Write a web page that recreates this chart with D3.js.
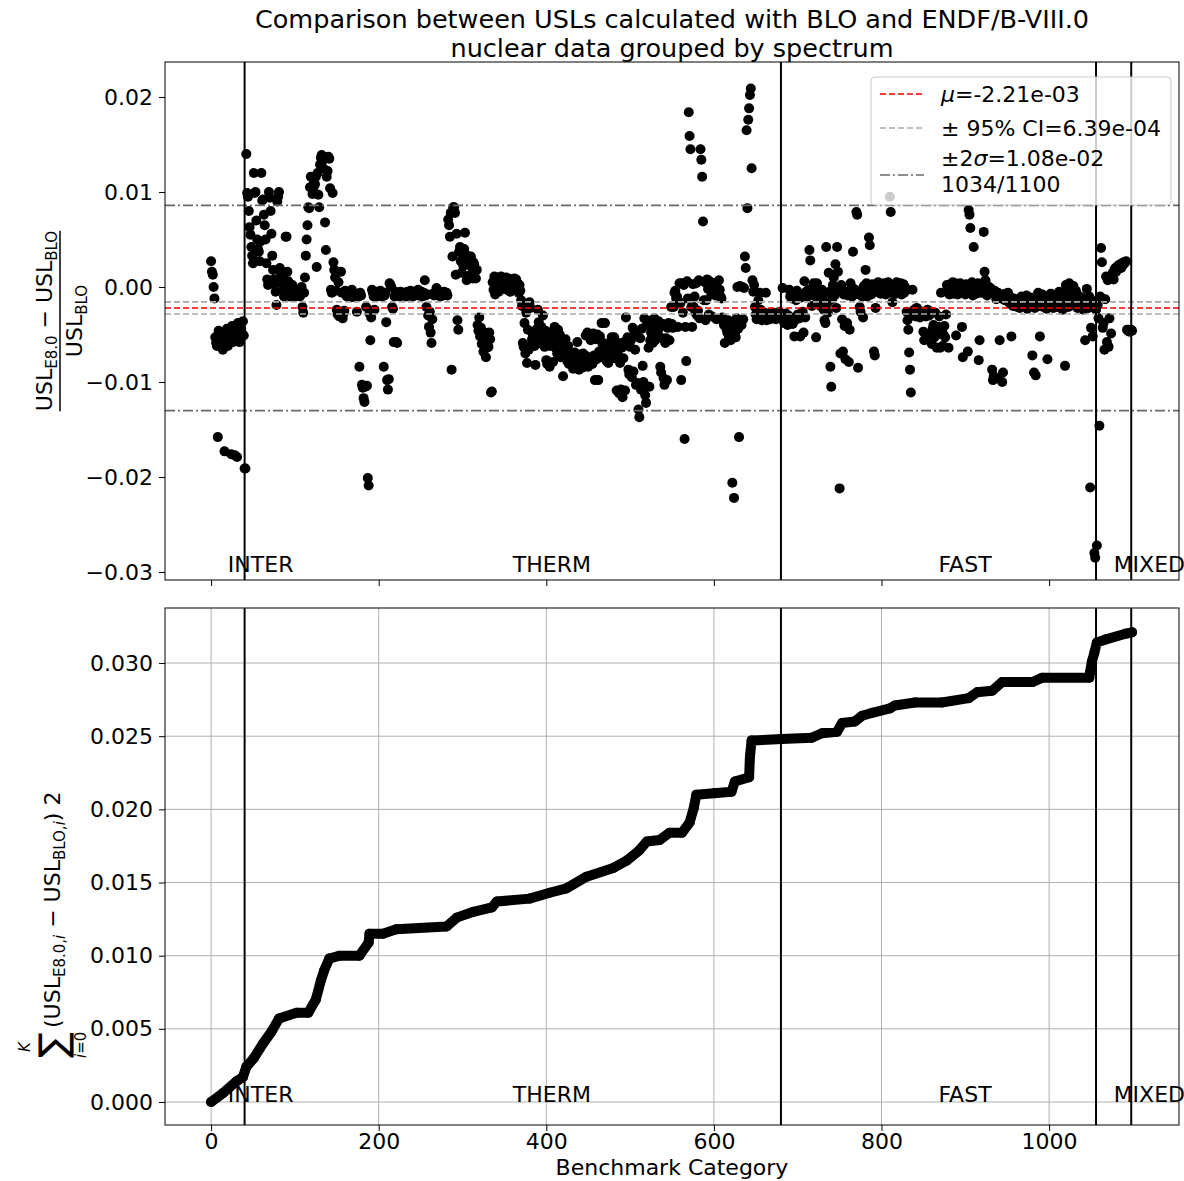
<!DOCTYPE html>
<html><head><meta charset="utf-8">
<script src="https://cdn.jsdelivr.net/npm/d3@7"></script>
<style>body{margin:0;background:#fff} svg text{font-family:'DejaVu Sans',sans-serif;fill:#000}</style>
</head><body><svg id="c" width="1184" height="1181"></svg>
<script>
// ---------- data ----------
const categories = ["INTER", "THERM", "FAST", "MIXED"];
const categoryBounds = [0, 40, 680, 1056, 1098];
// relative USL difference per benchmark, in units of 1e-3 (index = benchmark number)
const relDiffMilli = [
 2.7,1.6,1.3,0.0,-1.2,-5.3,-5.9,-6.2,-15.8,-4.6,
 -5.5,-6.0,-4.9,-5.7,-6.6,-5.1,-17.3,-4.8,-5.6,-4.4,
 -6.2,-5.0,-4.5,-5.4,-17.6,-4.1,-5.8,-4.7,-17.7,-4.2,
 -5.3,-17.9,-3.8,-4.9,-5.8,-4.0,-4.4,-4.9,-3.6,-5.1,
 -19.1,-19.1,14.0,9.9,9.5,8.0,6.3,5.5,4.2,3.3,
 2.5,12.0,9.9,10.0,7.0,5.0,4.0,3.7,2.7,4.8,
 12.0,9.1,9.2,7.6,6.5,5.0,2.5,0.8,0.2,10.0,
 9.4,8.0,5.6,3.3,1.8,0.8,0.3,-0.5,-1.9,9.0,
 9.5,10.0,2.0,1.5,1.0,0.4,-0.3,-1.0,0.7,5.3,
 5.3,1.6,0.6,-0.3,-1.0,-0.7,-0.4,0.2,-0.8,-0.5,
 -1.0,-0.9,-0.8,-0.6,-0.4,-0.7,-1.0,-0.3,0.0,-2.1,
 -2.7,-0.6,1.0,3.3,5.0,6.5,8.4,8.3,10.5,11.6,
 10.5,9.8,10.3,11.0,10.8,11.6,2.1,12.0,9.7,8.4,
 12.9,13.6,13.9,13.3,12.5,13.6,6.8,3.9,11.6,12.2,
 13.7,13.5,10.4,-0.3,-0.6,9.9,2.6,1.8,1.0,-0.4,
 -2.4,-2.9,0.5,-3.1,-2.7,1.6,-0.6,-3.3,-2.8,-2.5,
 -0.4,-0.8,-1.0,-0.6,-0.5,-0.9,-1.1,-0.7,-0.3,-0.9,
 -0.6,-0.9,-1.1,-0.8,-2.6,-0.7,-1.0,-8.4,-0.6,-0.9,
 -10.3,-10.6,-11.7,-12.1,-10.5,-2.1,-10.4,-20.1,-20.9,-2.8,
 -5.6,-3.2,-0.3,-0.6,-1.0,-2.4,-0.8,-0.5,-1.0,-0.7,
 -0.9,-0.6,-0.4,-0.8,-1.0,-0.7,-8.4,-0.9,-0.6,-3.7,
 -9.8,-10.8,-9.7,0.4,0.2,0.0,-2.1,-2.3,-5.8,-1.0,
 -0.5,-5.8,-5.9,-0.8,-0.6,-1.0,-0.5,-0.8,-0.7,-0.9,
 -0.6,-0.9,-0.7,-1.0,-0.5,-0.8,-0.6,-0.9,-0.4,-0.8,
 -0.7,-1.0,-0.6,-0.9,-0.5,-0.8,-0.7,-0.3,-0.9,-0.6,
 -0.8,-0.5,-1.0,-0.7,-0.6,0.7,-0.9,-2.1,-0.8,-3.0,
 -4.2,-2.6,-4.8,-5.9,-3.4,-0.7,-0.9,-0.6,-0.8,-0.1,
 -0.7,-0.9,-0.5,-0.8,-1.0,-0.6,-0.9,-0.7,-0.5,-0.8,
 -0.8,-0.6,-0.9,7.1,6.5,5.3,7.8,-8.7,3.2,8.4,
 8.4,7.8,1.3,5.6,-3.5,-4.5,3.7,4.2,2.7,1.5,
 3.0,2.2,4.0,5.7,2.5,0.7,3.3,2.4,1.2,2.9,
 3.2,2.1,0.9,2.6,2.4,1.6,0.9,1.8,-4.0,-4.6,
 -3.2,-5.2,-4.3,-6.0,-5.4,-6.8,-4.8,-5.9,-7.4,-6.4,
 -5.0,-6.3,-4.8,-5.5,-11.1,-11.0,0.5,-0.3,1.1,-0.8,
 0.3,1.0,0.6,-0.5,0.8,0.2,1.1,0.6,-0.2,0.4,
 0.7,0.2,1.0,-0.3,0.5,0.9,0.1,-0.5,0.3,0.8,
 0.4,-0.2,0.9,0.6,0.8,-0.1,0.4,-0.6,0.2,-0.4,
 -1.4,-2.0,-5.9,-6.3,-3.8,-7.0,-2.7,-8.0,-4.5,-6.6,
 -1.6,-2.2,-6.1,-5.5,-5.0,-4.7,-6.2,-8.2,-5.3,-4.4,
 -2.4,-3.7,-5.8,-4.9,-4.2,-6.0,-3.0,-5.5,-6.3,-4.6,
 -7.7,-8.1,-5.1,-4.8,-8.4,-6.2,-5.6,-4.9,-7.9,-5.3,
 -4.2,-6.4,-5.9,-7.0,-4.5,-6.7,-5.0,-7.4,-6.1,-5.8,
 -9.4,-6.6,-7.2,-5.5,-6.9,-7.8,-6.2,-8.1,-7.0,-7.5,
 -8.0,-7.3,-8.6,-7.7,-6.9,-8.3,-7.9,-5.8,-7.4,-8.7,
 -7.1,-8.2,-7.6,-8.5,-7.0,-7.8,-8.0,-5.1,-7.3,-4.8,
 -8.4,-7.5,-5.3,-5.6,-7.9,-8.1,-4.9,-7.2,-9.8,-5.5,
 -7.6,-5.0,-9.8,-6.8,-5.2,-7.4,-3.8,-6.0,-5.9,-7.1,
 -3.8,-6.5,-7.8,-6.2,-8.0,-7.2,-5.9,-6.6,-5.3,-6.9,
 -6.9,-5.3,-7.5,-6.1,-10.9,-7.0,-5.9,-11.2,-8.0,-10.8,
 -6.4,-11.6,-7.5,-5.8,-10.9,-3.2,-6.0,-5.3,-8.7,-9.2,
 -6.3,-5.6,-9.5,-4.3,-8.9,-5.0,-6.6,-10.3,-4.8,-10.1,
 -12.9,-13.7,-5.4,-10.8,-4.4,-8.3,-10.0,-3.3,-11.4,-12.2,
 -4.0,-3.6,-6.4,-10.5,-5.6,-4.8,-3.5,-5.9,-4.1,-3.3,
 -5.6,-4.5,-3.8,-4.9,-3.6,-4.3,-8.4,-9.0,-5.4,-3.9,
 -9.6,-10.3,-5.9,-5.4,-9.8,-4.3,-3.8,-5.6,-4.0,-2.1,
 -3.9,-4.3,-2.1,-0.6,-0.4,-1.2,-1.0,-4.2,-1.5,0.4,
 -1.7,-9.8,0.4,-2.7,0.2,-16.0,-4.2,-7.8,0.6,-1.2,
 18.4,15.9,14.5,-2.1,-4.2,0.3,-2.1,-1.0,-2.7,0.4,
 -3.0,-2.5,0.7,-3.3,14.5,13.4,11.6,6.9,-1.4,0.5,
 -3.5,-1.4,0.8,-0.2,-2.9,0.6,0.2,-0.8,-3.1,0.1,
 -0.5,0.4,-0.9,-3.4,0.0,-0.4,0.7,-0.3,-1.0,-1.2,
 -3.2,-3.6,-4.0,-5.9,-3.8,-4.4,-4.8,-3.5,-5.2,-4.1,
 -5.6,-4.6,-20.6,-3.9,-22.2,-4.9,-5.3,-3.3,0.0,-4.4,
 -15.8,0.1,-3.6,-4.0,0.0,-3.4,-0.1,3.2,2.0,16.5,
 8.3,17.6,18.8,20.2,20.9,12.5,0.7,-0.5,0.2,-2.1,
 -2.9,-3.4,-2.5,-1.4,-3.1,-0.6,-2.4,-3.5,-2.8,-3.0,
 -2.7,-3.3,-0.6,-3.5,-2.9,-2.8,-3.2,-3.4,-2.9,-3.1,
 -2.7,-3.3,-3.0,-2.8,-3.4,-3.2,-2.9,-3.1,-2.6,-3.3,
 -3.0,-2.9,-0.1,-3.4,-3.8,-3.2,-2.8,-3.6,-4.0,-3.0,
 -0.3,-1.0,-3.7,-1.2,-3.9,-0.7,-5.2,-3.5,-1.4,-0.4,
 -2.9,-0.9,-3.3,-5.2,-1.1,-0.8,-2.6,-4.8,0.6,-3.2,
 -0.5,-0.9,-1.0,-0.3,3.9,2.8,-0.6,-2.0,-0.8,0.4,
 -0.7,-1.0,-5.3,0.4,-0.4,-1.2,-0.8,-2.0,-1.6,-0.3,
 -1.0,-2.4,-3.5,-3.8,4.2,-1.8,-2.7,1.5,-0.5,-8.4,
 -10.5,-1.3,0.2,1.0,-0.9,2.4,-2.2,4.2,1.6,-0.3,
 -21.2,-7.0,0.2,-3.4,-6.8,-0.8,-4.1,-7.6,-0.5,-3.8,
 -0.9,-7.9,-4.5,0.4,-0.6,-1.0,3.7,-0.2,-0.7,-0.4,
 7.9,7.6,-8.5,-0.8,-2.1,-2.6,-0.3,-1.0,-3.2,0.1,
 -0.5,1.8,0.4,-1.0,-0.6,5.2,4.4,-0.2,-0.8,0.3,
 -0.4,-6.8,-7.2,-2.2,0.2,-0.5,0.5,-0.3,-0.1,-0.7,
 0.3,-0.2,-0.6,0.4,-0.1,-0.8,0.2,-0.4,0.5,-0.3,
 9.5,7.9,-0.6,-1.6,0.1,-0.4,0.3,-0.7,0.5,-0.2,
 -0.5,0.2,-0.3,0.4,-0.8,-0.1,0.3,-0.6,0.0,-0.4,
 -2.6,-3.5,-4.5,-6.9,-8.7,-11.1,-2.9,-0.3,-3.0,-2.4,
 -2.7,-3.1,-2.2,-2.8,-3.0,-2.5,-3.2,-2.9,-2.6,-3.0,
 -4.7,-5.6,-2.8,-3.1,-5.1,-2.4,-2.9,-3.0,-4.9,-2.6,
 -6.0,-4.4,-4.0,-5.3,-2.7,-4.8,-6.4,-5.0,-4.2,-3.1,
 -6.4,-0.6,-4.5,-6.2,-5.0,-4.1,-5.3,-2.9,0.2,-0.4,
 -6.4,-0.8,0.3,-0.5,-0.1,0.5,-0.7,-0.2,0.4,-5.1,
 -0.3,-0.8,0.2,-0.6,0.4,-0.1,-4.2,-7.4,-0.5,0.1,
 -0.8,0.3,-0.4,-6.8,8.1,7.6,6.2,-0.2,0.5,-0.9,
 4.2,-0.3,0.2,-0.7,-0.5,0.4,-7.7,-5.6,-0.1,-0.6,
 0.3,-0.4,5.8,1.6,0.7,-0.2,-0.9,0.1,-0.5,-0.3,
 -0.1,-0.6,-8.7,-9.8,-9.4,-0.4,-0.8,-1.3,-9.6,-0.6,
 -1.0,-5.6,-0.8,-1.2,-10.0,-9.0,-0.9,-1.4,-0.7,-1.1,
 -1.3,-0.6,-1.6,-1.0,-1.8,-5.2,-1.5,-2.0,-1.2,-1.7,
 -1.9,-1.4,-2.1,-1.6,-1.3,-2.2,-1.8,-1.0,-1.5,-2.0,
 -1.7,-1.2,-1.9,-0.9,-2.3,-1.6,-1.4,-2.0,-1.1,-1.8,
 -7.2,-1.5,-9.0,-2.2,-9.3,-1.3,-1.7,-0.6,-2.0,-5.2,
 -1.4,-1.9,-0.8,-2.1,-1.6,-1.2,-1.8,-2.3,-7.6,-1.5,
 -1.0,-2.0,-0.7,-1.7,-1.3,-2.2,-1.9,-0.9,-1.6,-2.1,
 -1.2,-1.8,-0.5,-2.0,-1.4,-1.1,-2.4,-0.8,-1.7,-8.3,
 0.2,-1.6,-0.3,-2.1,0.4,-1.3,-1.9,-0.6,-1.8,0.1,
 -1.5,-2.0,-0.4,-1.2,-2.2,-0.9,-1.7,-1.4,-2.0,-1.1,
 -1.8,-2.4,-1.3,-5.6,-2.0,-0.2,-1.6,-2.2,-1.0,-21.1,
 -4.3,-2.1,-5.2,-1.5,-28.0,-28.5,-2.4,-27.2,-1.9,-3.3,
 -14.6,-1.0,4.1,2.6,-4.3,-3.8,-6.6,-1.3,1.1,-5.8,
 0.7,-6.3,-3.3,0.9,-4.9,1.1,1.5,0.8,1.8,2.0,
 1.6,2.1,1.9,2.3,2.2,2.4,2.0,2.5,2.3,2.6,
 2.5,2.6,2.7,-4.5,-4.6,-4.5,-4.7,-4.6,-4.5,-4.6
];
// cumulative sum (index, value in 1e-3)
const cumIndex = [0,14,30,38,42,51,62,72,81,102,116,125,131,135,141,153,177,188,189,205,221,281,293,313,335,341,380,404,424,448,480,496,511,520,535,547,562,571,576,579,600,621,625,642,643,645,681,717,729,747,753,768,777,789,810,816,840,872,904,914,932,944,980,992,1048,1049,1051,1054,1057,1067,1091,1099];
const cumValueMilli = [0,0.6,1.4,1.7,2.4,3.0,4.0,4.8,5.7,6.1,6.1,7.0,8.3,9.0,9.8,10.0,10.0,10.9,11.5,11.5,11.8,12.0,12.6,13.0,13.3,13.7,13.9,14.3,14.6,15.4,16.0,16.5,17.2,17.8,17.9,18.4,18.4,19.1,20.1,21.0,21.1,21.2,21.9,22.2,23.6,24.7,24.8,24.9,25.2,25.3,25.9,26.0,26.4,26.6,26.9,27.1,27.3,27.3,27.6,28.0,28.1,28.7,28.7,29.0,29.0,29.4,30.1,30.7,31.4,31.6,32.0,32.1];
const meanValue = -2.21e-3, ci95 = 6.39e-4, twoSigma = 1.08e-2;
const legendLabels = ["=-2.21e-03", "± 95% CI=6.39e-04", "=1.08e-02", "1034/1100"];
const xTicks = [0, 200, 400, 600, 800, 1000];
const topYTicks = [0.02, 0.01, 0.0, -0.01, -0.02, -0.03];
const botYTicks = [0.0, 0.005, 0.010, 0.015, 0.020, 0.025, 0.030];
const titleLines = ["Comparison between USLs calculated with BLO and ENDF/B-VIII.0", "nuclear data grouped by spectrum"];

// ---------- layout ----------
const FS = 22;
const L = 165, R = 1179;
const topBox = {t: 62, b: 580}, botBox = {t: 608, b: 1125};
const svg = d3.select("#c");
const x = d3.scaleLinear().domain([-55, 1155]).range([L, R]);
const yT = d3.scaleLinear().domain([-0.03084, 0.02368]).range([topBox.b, topBox.t]);
const yB = d3.scaleLinear().domain([-0.00157, 0.03376]).range([botBox.b, botBox.t]);
const fmtMinus = s => s.replace("-", "\u2212");

// title
svg.selectAll("text.title").data(titleLines).join("text")
  .attr("x", (L + R) / 2).attr("y", (d, i) => 28 + i * 29)
  .attr("text-anchor", "middle").attr("font-size", 25.5).text(d => d);

function axes(yScale, box, yTicks, yFmt, showXLabels, grid) {
  const g = svg.append("g");
  if (grid) {
    g.selectAll("line.gx").data(xTicks).join("line")
      .attr("x1", d => x(d)).attr("x2", d => x(d)).attr("y1", box.t).attr("y2", box.b)
      .attr("stroke", "#b0b0b0").attr("stroke-width", 1);
    g.selectAll("line.gy").data(yTicks).join("line")
      .attr("x1", L).attr("x2", R).attr("y1", d => yScale(d)).attr("y2", d => yScale(d))
      .attr("stroke", "#b0b0b0").attr("stroke-width", 1);
  }
  const ax = g.append("g").attr("transform", `translate(${L},0)`)
    .call(d3.axisLeft(yScale).tickValues(yTicks).tickFormat(yFmt).tickSize(6).tickPadding(6));
  ax.select(".domain").remove();
  ax.selectAll("text").attr("font-size", FS).attr("font-family", "DejaVu Sans");
  const bx = g.append("g").attr("transform", `translate(0,${box.b})`)
    .call(d3.axisBottom(x).tickValues(xTicks).tickFormat(showXLabels ? d3.format("d") : "").tickSize(6).tickPadding(2));
  bx.select(".domain").remove();
  bx.selectAll("text").attr("font-size", FS).attr("font-family", "DejaVu Sans");
  return g;
}

// ---------- top panel ----------
axes(yT, topBox, topYTicks, d => fmtMinus(d3.format(".2f")(d)), false, false);
const pts = relDiffMilli.map((v, i) => ({i, v: v * 1e-3}));
svg.append("g").selectAll("circle").data(pts).join("circle")
  .attr("cx", d => x(d.i)).attr("cy", d => yT(d.v)).attr("r", 5).attr("fill", "#000");

const hLines = [
  {v: meanValue + twoSigma, c: "#696969", dash: "10,3,2,3", w: 1.6},
  {v: meanValue - twoSigma, c: "#696969", dash: "10,3,2,3", w: 1.6},
  {v: meanValue + ci95, c: "#a9a9a9", dash: "6,3", w: 1.6},
  {v: meanValue - ci95, c: "#a9a9a9", dash: "6,3", w: 1.6},
  {v: meanValue, c: "#ff0000", dash: "6,3", w: 1.6}
];
svg.append("g").selectAll("line").data(hLines).join("line")
  .attr("x1", L).attr("x2", R).attr("y1", d => yT(d.v)).attr("y2", d => yT(d.v))
  .attr("stroke", d => d.c).attr("stroke-dasharray", d => d.dash).attr("stroke-width", d => d.w);

function catMarks(yScale, box, labelY) {
  const g = svg.append("g");
  g.selectAll("line").data(categoryBounds.slice(1)).join("line")
    .attr("x1", d => x(d)).attr("x2", d => x(d)).attr("y1", box.t).attr("y2", box.b)
    .attr("stroke", "#000").attr("stroke-width", 2);
  g.selectAll("text").data(categories).join("text")
    .attr("x", (d, i) => x((categoryBounds[i] + categoryBounds[i + 1]) / 2))
    .attr("y", yScale(labelY)).attr("font-size", FS).text(d => d);
}
catMarks(yT, topBox, -0.03);

// legend
const lg = svg.append("g");
lg.append("rect").attr("x", 871).attr("y", 77).attr("width", 300).attr("height", 128).attr("rx", 4)
  .attr("fill", "#fff").attr("fill-opacity", 0.8).attr("stroke", "#cccccc").attr("stroke-width", 1);
const legendRows = [
  {y: 94, c: "#ff0000", dash: "6,3"},
  {y: 128, c: "#a9a9a9", dash: "6,3"},
  {y: 175, c: "#696969", dash: "10,3,2,3"}
];
lg.selectAll("line").data(legendRows).join("line")
  .attr("x1", 880).attr("x2", 924).attr("y1", d => d.y).attr("y2", d => d.y)
  .attr("stroke", d => d.c).attr("stroke-dasharray", d => d.dash).attr("stroke-width", 1.6);
const t1 = lg.append("text").attr("x", 941).attr("y", 102).attr("font-size", FS);
t1.append("tspan").attr("font-style", "italic").text("\u03bc");
t1.append("tspan").text(legendLabels[0]);
lg.append("text").attr("x", 941).attr("y", 136).attr("font-size", FS).text(legendLabels[1]);
const t3 = lg.append("text").attr("x", 941).attr("y", 166).attr("font-size", FS);
t3.append("tspan").text("\u00b12");
t3.append("tspan").attr("font-style", "italic").text("\u03c3");
t3.append("tspan").text(legendLabels[2]);
lg.append("text").attr("x", 941).attr("y", 192).attr("font-size", FS).text(legendLabels[3]);

// frame
svg.append("rect").attr("x", L).attr("y", topBox.t).attr("width", R - L).attr("height", topBox.b - topBox.t)
  .attr("fill", "none").attr("stroke", "#000").attr("stroke-width", 1);

// top y label (fraction)
const yl = svg.append("g").attr("transform", `translate(60,${(topBox.t + topBox.b) / 2}) rotate(-90)`);
const num = yl.append("text").attr("text-anchor", "middle").attr("y", -8).attr("font-size", FS);
num.append("tspan").text("USL");
num.append("tspan").attr("font-size", 15).attr("dy", 5).text("E8.0");
num.append("tspan").attr("dy", -5).text(" \u2212 USL");
num.append("tspan").attr("font-size", 15).attr("dy", 5).text("BLO");
const nw = num.node().getComputedTextLength();
yl.append("line").attr("x1", -nw / 2).attr("x2", nw / 2).attr("y1", 0).attr("y2", 0)
  .attr("stroke", "#000").attr("stroke-width", 1.5);
const den = yl.append("text").attr("text-anchor", "middle").attr("y", 22).attr("font-size", FS);
den.append("tspan").text("USL");
den.append("tspan").attr("font-size", 15).attr("dy", 5).text("BLO");

// ---------- bottom panel ----------
axes(yB, botBox, botYTicks, d => d3.format(".3f")(d), true, true);
const cum = cumIndex.map((k, j) => ({i: k, v: cumValueMilli[j] * 1e-3}));
svg.append("path").datum(cum)
  .attr("d", d3.line().x(d => x(d.i)).y(d => yB(d.v)))
  .attr("fill", "none").attr("stroke", "#000").attr("stroke-width", 10)
  .attr("stroke-linejoin", "round").attr("stroke-linecap", "round");
svg.append("g").selectAll("circle").data(cum).join("circle")
  .attr("cx", d => x(d.i)).attr("cy", d => yB(d.v)).attr("r", 5).attr("fill", "#000");
catMarks(yB, botBox, 0);
svg.append("rect").attr("x", L).attr("y", botBox.t).attr("width", R - L).attr("height", botBox.b - botBox.t)
  .attr("fill", "none").attr("stroke", "#000").attr("stroke-width", 1);

svg.append("text").attr("x", (L + R) / 2).attr("y", 1175).attr("text-anchor", "middle")
  .attr("font-size", FS).text("Benchmark Category");

// bottom y label (sum)
const sl = svg.append("g").attr("transform", `translate(52,1058) rotate(-90)`);
sl.append("text").attr("x", 0).attr("y", 14).attr("font-size", 38).text("\u2211");
sl.append("text").attr("x", 6).attr("y", -22).attr("font-size", 15).attr("font-style", "italic").text("K");
const lim = sl.append("text").attr("x", 0).attr("y", 34).attr("font-size", 15);
lim.append("tspan").attr("font-style", "italic").text("i");
lim.append("tspan").text("=0");
const st = sl.append("text").attr("x", 30).attr("y", 8).attr("font-size", FS);
st.append("tspan").text("(USL");
st.append("tspan").attr("font-size", 15).attr("dy", 5).text("E8.0,");
st.append("tspan").attr("font-size", 15).attr("font-style", "italic").text("i");
st.append("tspan").attr("dy", -5).text(" \u2212 USL");
st.append("tspan").attr("font-size", 15).attr("dy", 5).text("BLO,");
st.append("tspan").attr("font-size", 15).attr("font-style", "italic").text("i");
st.append("tspan").attr("dy", -5).text(") 2");
</script></body></html>
